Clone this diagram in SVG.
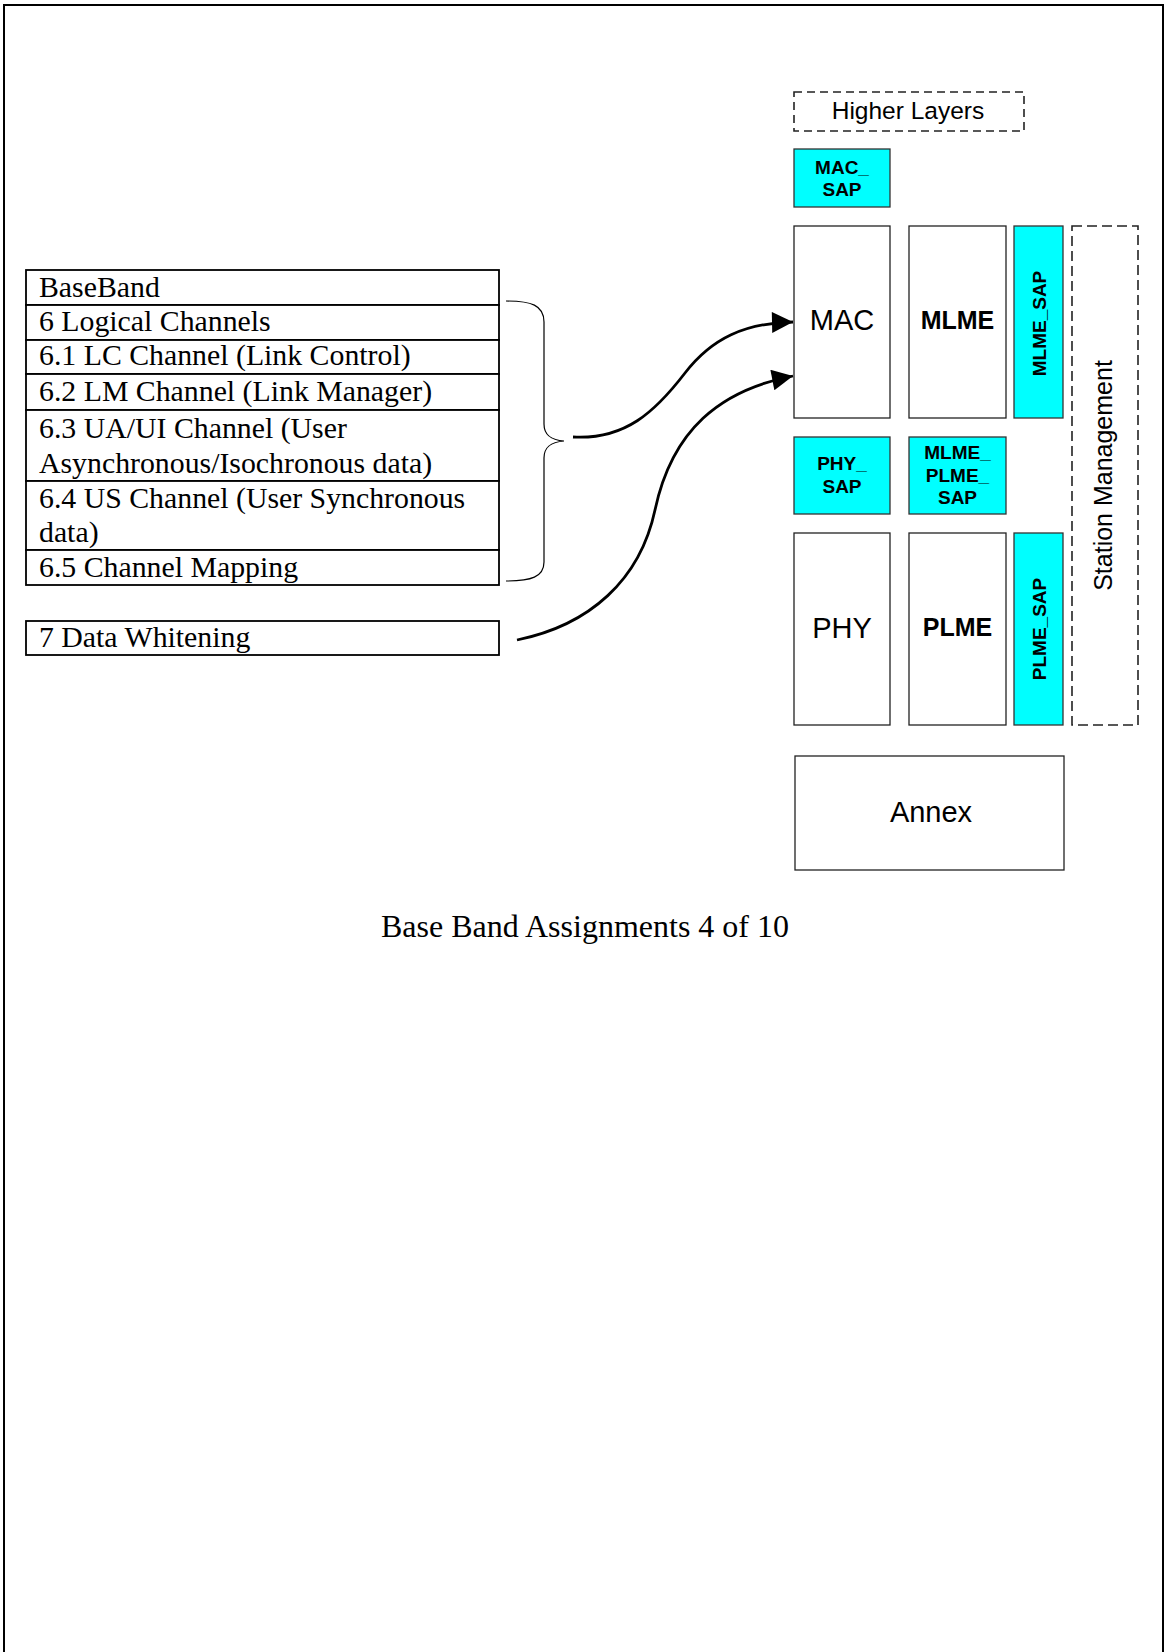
<svg xmlns="http://www.w3.org/2000/svg" width="1165" height="1652" viewBox="0 0 1165 1652">
<defs>
<style>
.sans{font-family:"Liberation Sans",Arial,sans-serif;fill:#000}
.serif{font-family:"Liberation Serif","Times New Roman",serif;fill:#000;font-size:29.8px}
.box{fill:#fff;stroke:#222;stroke-width:1.3}
.sap{fill:#00ffff;stroke:#333;stroke-width:1.3}
.dash{fill:none;stroke:#222;stroke-width:1.6;stroke-dasharray:8 5}
.row{fill:#fff;stroke:#000;stroke-width:1.8}
.b19{font-size:19px;font-weight:bold;text-anchor:middle}
.big{font-size:29px;text-anchor:middle}
.bold25{font-size:25px;font-weight:bold;text-anchor:middle}
.conn{fill:none;stroke:#000;stroke-width:2.8}
</style>
<marker id="arrow" viewBox="0 0 10 10" refX="10" refY="5" markerWidth="8" markerHeight="7.5" markerUnits="strokeWidth" orient="auto">
<path d="M0,0 L10,5 L0,10 Z" fill="#000"/>
</marker>
</defs>
<rect width="1165" height="1652" fill="#fff"/>
<path id="page-border" d="M4,1652 L4,5 L1163,5 L1163,1652" fill="none" stroke="#000" stroke-width="2"/>

<g id="baseband-table">
<rect class="row" x="26" y="270" width="473" height="35"/>
<rect class="row" x="26" y="305" width="473" height="35"/>
<rect class="row" x="26" y="340" width="473" height="34"/>
<rect class="row" x="26" y="374" width="473" height="36"/>
<rect class="row" x="26" y="410" width="473" height="71"/>
<rect class="row" x="26" y="481" width="473" height="69"/>
<rect class="row" x="26" y="550" width="473" height="35"/>
<text class="serif" x="39" y="297">BaseBand</text>
<text class="serif" x="39" y="331">6 Logical Channels</text>
<text class="serif" x="39" y="365">6.1 LC Channel (Link Control)</text>
<text class="serif" x="39" y="401">6.2 LM Channel (Link Manager)</text>
<text class="serif" x="39" y="437.5">6.3 UA/UI Channel (User</text>
<text class="serif" x="39" y="473">Asynchronous/Isochronous data)</text>
<text class="serif" x="39" y="507.5">6.4 US Channel (User Synchronous</text>
<text class="serif" x="39" y="542">data)</text>
<text class="serif" x="39" y="577">6.5 Channel Mapping</text>
</g>

<g id="data-whitening">
<rect class="row" x="26" y="621" width="473" height="34"/>
<text class="serif" x="39" y="647">7 Data Whitening</text>
</g>

<g id="brace">
<path d="M506,301 C531,301 544,305 544,322 L544,424 C544,436 552,440 564,441 C552,442 544,446 544,458 L544,562 C544,577 531,581 506,581" fill="none" stroke="#000" stroke-width="1.2"/>
</g>

<g id="higher-layers">
<rect class="dash" x="794" y="92" width="230" height="39"/>
<text class="sans" x="908" y="119" font-size="24.5" text-anchor="middle">Higher Layers</text>
</g>

<g id="mac-sap">
<rect class="sap" x="794" y="149" width="96" height="58"/>
<text class="sans b19" x="842" y="174">MAC_</text>
<text class="sans b19" x="842" y="196">SAP</text>
</g>

<g id="mac">
<rect class="box" x="794" y="226" width="96" height="192"/>
<text class="sans big" x="842" y="330">MAC</text>
</g>

<g id="mlme">
<rect class="box" x="909" y="226" width="97" height="192"/>
<text class="sans bold25" x="957.5" y="329">MLME</text>
</g>

<g id="mlme-sap">
<rect class="sap" x="1014" y="226" width="49" height="192"/>
<text class="sans b19" transform="translate(1046,323.5) rotate(-90)">MLME_SAP</text>
</g>

<g id="station-management">
<rect class="dash" x="1072" y="226" width="66" height="499" style="stroke-dasharray:10 5"/>
<text class="sans" font-size="25" text-anchor="middle" transform="translate(1112,475.5) rotate(-90)">Station Management</text>
</g>

<g id="phy-sap">
<rect class="sap" x="794" y="437" width="96" height="77"/>
<text class="sans b19" x="842" y="470">PHY_</text>
<text class="sans b19" x="842" y="493">SAP</text>
</g>

<g id="mlme-plme-sap">
<rect class="sap" x="909" y="437" width="97" height="77"/>
<text class="sans b19" x="957.5" y="459">MLME_</text>
<text class="sans b19" x="957.5" y="482">PLME_</text>
<text class="sans b19" x="957.5" y="504">SAP</text>
</g>

<g id="phy">
<rect class="box" x="794" y="533" width="96" height="192"/>
<text class="sans big" x="842" y="638">PHY</text>
</g>

<g id="plme">
<rect class="box" x="909" y="533" width="97" height="192"/>
<text class="sans bold25" x="957.5" y="636">PLME</text>
</g>

<g id="plme-sap">
<rect class="sap" x="1014" y="533" width="49" height="192"/>
<text class="sans b19" transform="translate(1046,629) rotate(-90)">PLME_SAP</text>
</g>

<g id="annex">
<rect class="box" x="795" y="756" width="269" height="114"/>
<text class="sans big" x="931" y="822">Annex</text>
</g>

<g id="connectors">
<path class="conn" marker-end="url(#arrow)" d="M573,437 C625,440 655,412 685,373 C712,338 745,323 793,322"/>
<path class="conn" marker-end="url(#arrow)" d="M517,640 C590,625 640,580 655,510 C672,430 720,390 793,376"/>
</g>

<g id="caption">
<text class="serif" x="585" y="937" text-anchor="middle" style="font-size:32px">Base Band Assignments 4 of 10</text>
</g>
</svg>
